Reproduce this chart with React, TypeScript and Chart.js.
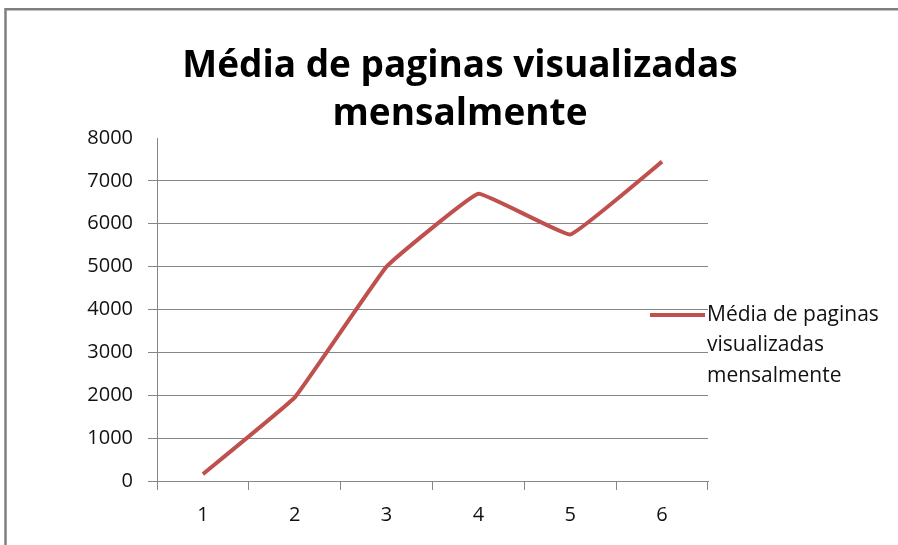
import React, { useEffect, useRef } from "react";
import { Chart, registerables } from "chart.js";

Chart.register(...registerables);

const categories = ["1", "2", "3", "4", "5", "6"];
const seriesLabel = "Média de paginas visualizadas mensalmente";
const seriesValues = [160, 1950, 5000, 6700, 5750, 7450];
const titleLines = ["Média de paginas visualizadas", "mensalmente"];
const legendLines = ["Média de paginas", "visualizadas", "mensalmente"];
const yTicks = [0, 1000, 2000, 3000, 4000, 5000, 6000, 7000, 8000];

const LINE_COLOR = "#C0504D";
const GRID_COLOR = "#868686";

const framePlugin = {
  id: "frame",
  beforeDraw(chart: any) {
    const ctx = chart.ctx;
    ctx.save();
    ctx.fillStyle = "#ffffff";
    ctx.fillRect(0, 0, chart.width, chart.height);
    ctx.strokeStyle = "#808080";
    ctx.lineWidth = 2.5;
    ctx.beginPath();
    ctx.moveTo(5.5, 545);
    ctx.lineTo(5.5, 9.3);
    ctx.lineTo(898, 9.3);
    ctx.stroke();
    ctx.restore();
  },
};

const titlePlugin = {
  id: "customTitle",
  afterDraw(chart: any) {
    const ctx = chart.ctx;
    ctx.save();
    ctx.fillStyle = "#000000";
    ctx.font = 'bold 37px "Open Sans"';
    ctx.textAlign = "center";
    ctx.textBaseline = "alphabetic";
    ctx.fillText(titleLines[0], 460, 77);
    ctx.fillText(titleLines[1], 460, 125);
    ctx.restore();
  },
};

const legendPlugin = {
  id: "customLegend",
  afterDraw(chart: any) {
    const ctx = chart.ctx;
    ctx.save();
    ctx.strokeStyle = LINE_COLOR;
    ctx.lineWidth = 4;
    ctx.beginPath();
    ctx.moveTo(650, 315);
    ctx.lineTo(705, 315);
    ctx.stroke();
    ctx.fillStyle = "#111111";
    ctx.font = '21px "Open Sans"';
    ctx.textAlign = "left";
    ctx.textBaseline = "middle";
    legendLines.forEach((t, i) => ctx.fillText(t, 707, 315 + i * 30.5));
    ctx.restore();
  },
};

export default function App() {
  const ref = useRef<HTMLCanvasElement | null>(null);
  useEffect(() => {
    if (!ref.current) return;
    const chart = new Chart(ref.current, {
      type: "line",
      data: {
        labels: categories,
        datasets: [
          {
            label: seriesLabel,
            data: seriesValues,
            borderColor: LINE_COLOR,
            backgroundColor: LINE_COLOR,
            borderWidth: 4,
            pointRadius: 0,
            tension: 0.08,
            fill: false,
          },
        ],
      },
      options: {
        animation: false,
        responsive: false,
        layout: { padding: { top: 138, right: 190, left: 0, bottom: 0 } },
        plugins: {
          legend: { display: false },
          title: { display: false },
          tooltip: { enabled: false },
        },
        scales: {
          x: {
            type: "category",
            offset: true,
            afterFit: (s: any) => {
              s.height = 64;
            },
            grid: {
              display: true,
              offset: true,
              drawOnChartArea: false,
              drawTicks: true,
              tickLength: 9,
              color: GRID_COLOR,
            },
            border: { display: true, color: GRID_COLOR, width: 1 },
            ticks: {
              padding: 13,
              color: "#111111",
              font: { family: "Open Sans", size: 20 },
            },
          },
          y: {
            min: 0,
            max: 8000,
            afterFit: (s: any) => {
              s.width = 157;
            },
            afterBuildTicks: (s: any) => {
              s.ticks = yTicks.map((v) => ({ value: v }));
            },
            grid: {
              color: (c: any) =>
                c.tick && c.tick.value === 8000 ? "rgba(0,0,0,0)" : GRID_COLOR,
              tickLength: 9,
              lineWidth: 1,
            },
            border: { display: true, color: GRID_COLOR, width: 1 },
            ticks: {
              stepSize: 1000,
              padding: 15,
              color: "#111111",
              font: { family: "Open Sans", size: 20 },
              callback: (v: any) => String(v),
            },
          },
        },
      },
      plugins: [framePlugin, titlePlugin, legendPlugin],
    });
    return () => chart.destroy();
  }, []);
  return (
    <div style={{ position: "absolute", left: 0, top: 0, width: 898, height: 545 }}>
      <canvas ref={ref} width={898} height={545} style={{ display: "block" }} />
    </div>
  );
}
